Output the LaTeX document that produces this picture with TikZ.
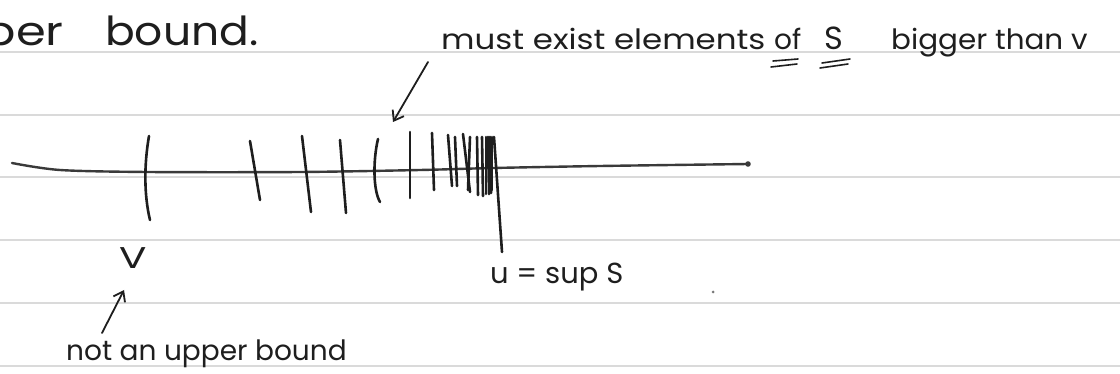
\documentclass[tikz,border=0pt]{standalone}
\usepackage{fontspec}
\setmainfont{Poppins}
\usetikzlibrary{arrows.meta,calc}
\definecolor{ink}{HTML}{1E1E1E}
\definecolor{rulegrey}{HTML}{DADADA}
\definecolor{axisgrey}{HTML}{3A3A3A}
\newcommand{\hwf}[1]{\fontsize{#1}{#1}\selectfont}
\begin{document}
\begin{tikzpicture}[x=1pt,y=1pt,
  ruled/.style={rulegrey, line width=1.6pt},
  hw/.style={inner sep=0pt, text=ink},
  tickmark/.style={ink, line width=2.6pt, line cap=round},
  uline/.style={ink, line width=1.6pt, line cap=round},
  ptr/.style={ink, line width=1.8pt, line cap=round, -{Straight Barb[length=9pt,width=13pt,line width=1.8pt]}}]
\useasboundingbox[fill=white] (0,0) rectangle (1120,-374);
% ruled paper lines
\foreach \y in {52,115,177,240,303,366} \draw[ruled] (0,-\y) -- (1120,-\y);

% top texts
\node[hw, anchor=base east, font=\hwf{40}] (up) at (64,-46) {\scalebox{1.2}[1]{upper}};
\node[hw, anchor=base west, font=\hwf{40}] (bd) at (105,-46) {\scalebox{1.1}[1]{bound.}};
\node[hw, anchor=base west, font=\hwf{28}] (m1) at (441,-50) {\scalebox{1.16}[1]{must exist elements}};
\node[hw, anchor=base west, font=\hwf{28}] (m2) at (774,-50) {of};
\node[hw, anchor=base west, font=\hwf{32}] (m3) at (824,-50) {S};
\node[hw, anchor=base west, font=\hwf{28}] (m4) at (891,-50) {\scalebox{1.05}[1]{bigger than v}};
% double underlines
\draw[uline] (773,-61) -- (798,-59);
\draw[uline] (771,-67) -- (797,-64);
\draw[uline] (822,-63) -- (850,-59);
\draw[uline] (820,-68) -- (848,-64);

% arrow to the ticks
\coordinate (a1s) at (428,-62);
\coordinate (a1e) at (393,-122);
\draw[ptr] (a1s) -- (a1e);

% number line
\draw[axisgrey, line width=2.4pt, line cap=round] plot[smooth] coordinates {(12,-163) (60,-170) (148,-172) (300,-172) (420,-170) (493,-168) (600,-166) (748,-164)};
\fill[axisgrey] (748,-164) circle (2.8pt);

% ticks
\draw[tickmark] (149,-136) .. controls (144,-165) and (144,-195) .. (150,-220);
\draw[tickmark] (250,-141) -- (260,-200);
\draw[tickmark] (302,-136) -- (311,-212);
\draw[tickmark] (340,-140) -- (346,-213);
\draw[tickmark] (378,-139) .. controls (373,-160) and (373,-190) .. (380,-202);
\draw[tickmark] (410,-132) -- (410,-198);
\draw[tickmark] (432,-133) -- (434,-190);
\draw[tickmark] (448,-135) -- (452,-186);
\draw[tickmark] (455,-137) -- (457,-186);
\draw[tickmark] (463,-134) -- (470,-192);
\draw[tickmark] (470,-137) -- (468,-190);
\draw[tickmark] (477,-137) -- (478,-195);
\draw[tickmark] (482,-137) -- (483,-196);
\draw[tickmark] (486,-137) -- (486,-194);
\draw[tickmark] (488,-137) -- (489,-194);
\draw[tickmark] (490,-137) -- (491,-193);
\draw[tickmark] (492,-137) -- (492,-190);
\draw[tickmark] (494,-137) -- (502,-252);

% labels below
\node[hw, anchor=base, font=\hwf{30}] (v) at (133,-269) {\scalebox{1.35}[1]{V}};
\node[hw, anchor=base west, font=\hwf{29}] (sup) at (490,-284) {u = sup S};
\node[hw, anchor=base west, font=\hwf{28}] (nub) at (66,-360) {not an upper bound};
\coordinate (a2s) at (102,-333);
\coordinate (a2e) at (124,-290);
\draw[ptr] (a2s) -- (a2e);

% stray dot
\fill[ink!60] (713,-292) circle (1.5pt);
\end{tikzpicture}
\end{document}
